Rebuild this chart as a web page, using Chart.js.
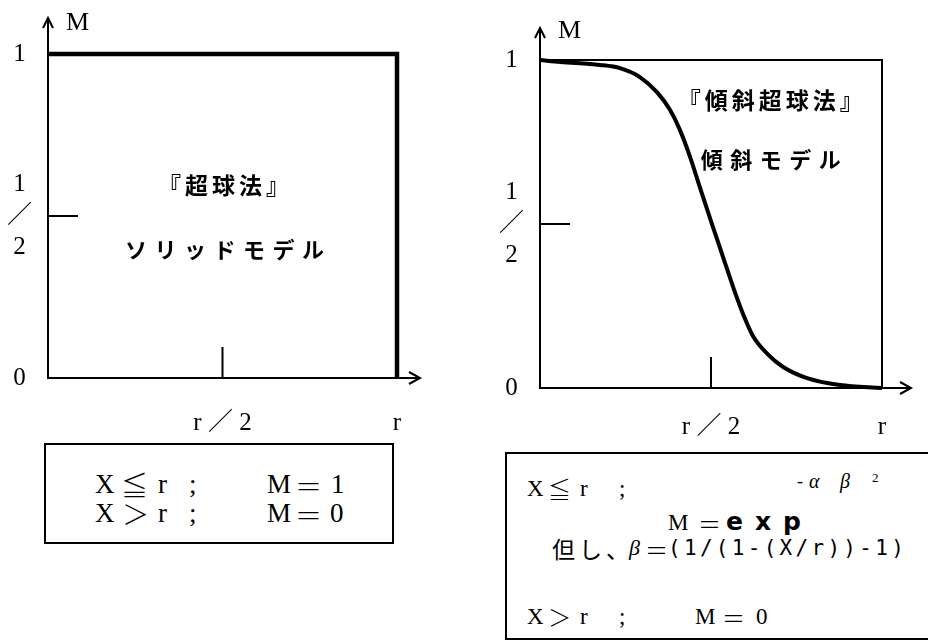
<!DOCTYPE html>
<html>
<head>
<meta charset="utf-8">
<script src="https://cdn.jsdelivr.net/npm/chart.js@4.4.0/dist/chart.umd.min.js"></script>
<style>
  body {
    margin: 0;
    width: 928px;
    height: 644px;
    position: relative;
    overflow: hidden;
    background: #fff;
    color: #000;
    font-family: "Liberation Serif", "Noto Sans CJK JP", serif;
  }
  canvas { position: absolute; top: 0; }
  #solid-chart { left: 0; }
  #slope-chart { left: 460px; }
  .box { position: absolute; border: 2px solid #000; box-sizing: border-box; }
  .t { position: absolute; white-space: pre; line-height: 1; transform: translateY(-50%); }
  .big { font-size: 27px; }
  .mid { font-size: 23px; }
  .sym { font-family: "Noto Sans CJK JP", sans-serif; font-weight: 300; }
</style>
</head>
<body>
<canvas id="solid-chart" width="460" height="440"></canvas>
<canvas id="slope-chart" width="468" height="440"></canvas>

<!-- solid model formula -->
<div class="box" style="left:44px; top:443px; width:350px; height:101px;"></div>
<span class="t big" style="left:95px; top:484px;">X</span>
<span class="t big sym" style="left:121px; top:484px;">≦</span>
<span class="t big" style="left:158px; top:484px;">r</span>
<span class="t big" style="left:189px; top:484px;">;</span>
<span class="t big" style="left:267px; top:484px;">M</span>
<span class="t big sym" style="left:295px; top:485px;">＝</span>
<span class="t big" style="left:331px; top:484px;">1</span>
<span class="t big" style="left:95px; top:513px;">X</span>
<span class="t big sym" style="left:122px; top:513px;">＞</span>
<span class="t big" style="left:158px; top:513px;">r</span>
<span class="t big" style="left:189px; top:513px;">;</span>
<span class="t big" style="left:267px; top:513px;">M</span>
<span class="t big sym" style="left:295px; top:514px;">＝</span>
<span class="t big" style="left:330px; top:513px;">0</span>

<!-- graded model formula -->
<div class="box" style="left:505px; top:452px; width:440px; height:188px;"></div>
<span class="t mid" style="left:527px; top:488px;">X</span>
<span class="t mid sym" style="left:548px; top:488px;">≦</span>
<span class="t mid" style="left:580px; top:488px;">r</span>
<span class="t mid" style="left:619px; top:488px;">;</span>
<span class="t" style="left:797px; top:481px; font-size:18px;">-</span>
<span class="t" style="left:809px; top:481px; font-size:20px; font-style:italic;">α</span>
<span class="t" style="left:840px; top:481px; font-size:20px; font-style:italic;">β</span>
<span class="t" style="left:872px; top:477px; font-size:13px;">2</span>
<span class="t mid" style="left:668px; top:522px;">M</span>
<span class="t mid sym" style="left:698px; top:523px;">＝</span>
<span class="t" style="left:726px; top:521px; font-family:'DejaVu Sans'; font-weight:bold; font-size:25px; letter-spacing:12px;">exp</span>
<span class="t mid sym" style="left:552px; top:548px; font-weight:400; letter-spacing:4px;">但し、</span>
<span class="t" style="left:629px; top:548px; font-size:22px; font-style:italic;">β</span>
<span class="t mid sym" style="left:645px; top:549px;">＝</span>
<span class="t" style="left:668px; top:548px; font-family:'DejaVu Sans Mono'; font-size:21px; letter-spacing:3.3px;">(1/(1-(X/r))-1)</span>
<span class="t mid" style="left:527px; top:616px;">X</span>
<span class="t mid sym" style="left:548px; top:616px;">＞</span>
<span class="t mid" style="left:580px; top:616px;">r</span>
<span class="t mid" style="left:619px; top:616px;">;</span>
<span class="t mid" style="left:695px; top:616px;">M</span>
<span class="t mid sym" style="left:722px; top:617px;">＝</span>
<span class="t mid" style="left:756px; top:616px;">0</span>

<script>
// ticks shared by both panels, along X/r and M
const tickValues = [0, 0.5, 1];
const xTickLabels = ["", "r ／ 2", "r"];
const yTickLabels = ["0", ["1", "／", "2"], "1"];
const axisName = "M";

// solid model: M = 1 up to r, then 0
const solidX = [0, 1, 1];
const solidM = [1, 1, 0];

// graded model: M falls smoothly from 1 to 0 over 0..r
const slopeX = [0, 0.06, 0.175, 0.234, 0.292, 0.342, 0.38, 0.409, 0.439, 0.468, 0.506, 0.535, 0.564, 0.594, 0.623, 0.664, 0.711, 0.781, 0.877, 1];
const slopeM = [1, 0.994, 0.985, 0.975, 0.948, 0.902, 0.848, 0.787, 0.704, 0.61, 0.49, 0.4, 0.31, 0.225, 0.158, 0.105, 0.064, 0.03, 0.009, 0];

const solidNotes = ["『超球法』", "ソリッドモデル"];
const slopeNotes = ["『傾斜超球法』", "傾斜モデル"];

const tickFont = { family: '"Liberation Serif", "Noto Sans CJK JP", serif', size: 25, lineHeight: 1.25 };

// arrows past the axis ends, the short inner ticks at 1/2, the axis name and the notes
const axisDecor = {
  id: "axisDecor",
  afterDatasetsDraw(chart, args, opts) {
    const { ctx, chartArea } = chart;
    const xs = chart.scales.x;
    const ys = chart.scales.y;
    const x0 = xs.getPixelForValue(0);
    const y0 = ys.getPixelForValue(0);
    const xh = xs.getPixelForValue(0.5);
    const yh = ys.getPixelForValue(0.5);
    const xEnd = chartArea.right + opts.xOver;
    const yEnd = chartArea.top - opts.yOver;

    ctx.save();
    ctx.strokeStyle = "#000";
    ctx.lineWidth = 2;
    ctx.beginPath();
    ctx.moveTo(chartArea.right, y0);
    ctx.lineTo(xEnd, y0);
    ctx.moveTo(xEnd - 11, y0 - 6);
    ctx.lineTo(xEnd, y0);
    ctx.lineTo(xEnd - 11, y0 + 6);
    ctx.moveTo(x0, chartArea.top);
    ctx.lineTo(x0, yEnd);
    ctx.moveTo(x0 - 5, yEnd + 10);
    ctx.lineTo(x0, yEnd);
    ctx.lineTo(x0 + 5, yEnd + 10);
    ctx.moveTo(xh, y0);
    ctx.lineTo(xh, y0 - 31);
    ctx.moveTo(x0, yh);
    ctx.lineTo(x0 + 30, yh);
    ctx.stroke();

    ctx.fillStyle = "#000";
    ctx.textBaseline = "middle";
    ctx.font = '26px "Liberation Serif", serif';
    ctx.fillText(axisName, x0 + 18, yEnd + opts.nameDy);

    ctx.textAlign = "center";
    opts.notes.forEach((n) => {
      ctx.font = "bold " + n.size + 'px "Noto Sans CJK JP", sans-serif';
      ctx.letterSpacing = n.spacing + "px";
      ctx.fillText(n.text, xs.getPixelForValue(n.x) + n.spacing / 2, ys.getPixelForValue(n.y));
    });
    ctx.restore();
  },
};

function labelFor(labels) {
  return (value) => {
    const i = tickValues.indexOf(value);
    return i < 0 ? "" : labels[i];
  };
}

function setTicks(scale) {
  scale.ticks = tickValues.map((v) => ({ value: v }));
}

function buildChart(canvasId, xs, ms, cfg) {
  const points = xs.map((x, i) => ({ x: x, y: ms[i] }));
  const scales = {
    x: {
      type: "linear",
      min: 0,
      max: 1,
      afterBuildTicks: setTicks,
      afterFit: (s) => { s.height = cfg.xAxisHeight; },
      grid: { display: false, drawTicks: false },
      border: { color: "#000", width: 2 },
      ticks: { autoSkip: false, maxRotation: 0, padding: cfg.xPad, color: "#000", font: tickFont, callback: labelFor(xTickLabels) },
    },
    y: {
      type: "linear",
      min: 0,
      max: 1,
      afterBuildTicks: setTicks,
      afterFit: (s) => { s.width = cfg.yAxisWidth; },
      grid: { display: false, drawTicks: false },
      border: { color: "#000", width: 2 },
      ticks: { autoSkip: false, crossAlign: "center", padding: 16, color: "#000", font: tickFont, callback: labelFor(yTickLabels) },
    },
  };
  if (cfg.frame) {
    // thin box along M = 1 and X = r
    scales.x2 = {
      type: "linear", position: "top", min: 0, max: 1,
      ticks: { display: false }, grid: { display: false, drawTicks: false },
      border: { color: "#000", width: 2 },
      afterFit: (s) => { s.height = 0; },
    };
    scales.y2 = {
      type: "linear", position: "right", min: 0, max: 1,
      ticks: { display: false }, grid: { display: false, drawTicks: false },
      border: { color: "#000", width: 2 },
      afterFit: (s) => { s.width = 0; },
    };
  }

  new Chart(document.getElementById(canvasId), {
    type: "line",
    data: {
      datasets: [
        {
          data: points,
          borderColor: "#000",
          borderWidth: cfg.lineWidth,
          pointRadius: 0,
          fill: false,
          clip: 6,
          tension: cfg.smooth ? 0.4 : 0,
          cubicInterpolationMode: cfg.smooth ? "monotone" : "default",
          borderJoinStyle: "miter",
          borderCapStyle: "butt",
        },
      ],
    },
    options: {
      responsive: false,
      animation: false,
      events: [],
      layout: { padding: { top: cfg.top, right: cfg.right, left: 0, bottom: 0 } },
      plugins: {
        legend: { display: false },
        tooltip: { enabled: false },
        axisDecor: cfg.decor,
      },
      scales: scales,
    },
    plugins: [axisDecor],
  });
}

buildChart("solid-chart", solidX, solidM, {
  top: 54, right: 63, xAxisHeight: 62, yAxisWidth: 48, xPad: 30,
  lineWidth: 4.5, smooth: false, frame: false,
  decor: {
    xOver: 23, yOver: 36, nameDy: 5,
    notes: [
      { text: solidNotes[0], x: 0.503, y: 0.596, size: 23, spacing: 4 },
      { text: solidNotes[1], x: 0.506, y: 0.395, size: 22, spacing: 7.5 },
    ],
  },
});

buildChart("slope-chart", slopeX, slopeM, {
  top: 60, right: 46, xAxisHeight: 52, yAxisWidth: 80, xPad: 24,
  lineWidth: 4, smooth: true, frame: true,
  decor: {
    xOver: 29, yOver: 32, nameDy: 3,
    notes: [
      { text: slopeNotes[0], x: 0.673, y: 0.878, size: 23, spacing: 4 },
      { text: slopeNotes[1], x: 0.675, y: 0.695, size: 22, spacing: 7.5 },
    ],
  },
});
</script>
</body>
</html>
